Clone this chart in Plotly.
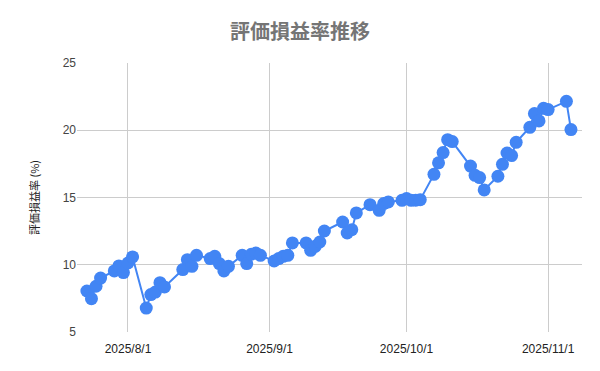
import plotly.graph_objects as go

dates = [
    "2025-07-23", "2025-07-24", "2025-07-25", "2025-07-26",
    "2025-07-29", "2025-07-30", "2025-07-31", "2025-08-01", "2025-08-02",
    "2025-08-05", "2025-08-06", "2025-08-07", "2025-08-08", "2025-08-09",
    "2025-08-13", "2025-08-14", "2025-08-15", "2025-08-16",
    "2025-08-19", "2025-08-20", "2025-08-21", "2025-08-22", "2025-08-23",
    "2025-08-26", "2025-08-27", "2025-08-28", "2025-08-29", "2025-08-30",
    "2025-09-02", "2025-09-03", "2025-09-04", "2025-09-05", "2025-09-06",
    "2025-09-09", "2025-09-10", "2025-09-11", "2025-09-12", "2025-09-13",
    "2025-09-17", "2025-09-18", "2025-09-19", "2025-09-20",
    "2025-09-23", "2025-09-25", "2025-09-26", "2025-09-27",
    "2025-09-30", "2025-10-01", "2025-10-02", "2025-10-03", "2025-10-04",
    "2025-10-07", "2025-10-08", "2025-10-09", "2025-10-10", "2025-10-11",
    "2025-10-15", "2025-10-16", "2025-10-17", "2025-10-18",
    "2025-10-21", "2025-10-22", "2025-10-23", "2025-10-24", "2025-10-25",
    "2025-10-28", "2025-10-29", "2025-10-30", "2025-10-31", "2025-11-01",
    "2025-11-05", "2025-11-06",
]

rates = [
    8.05, 7.48, 8.40, 9.01,
    9.54, 9.91, 9.42, 10.13, 10.58,
    6.78, 7.78, 7.97, 8.67, 8.35,
    9.64, 10.38, 9.88, 10.70,
    10.46, 10.63, 10.09, 9.54, 9.88,
    10.70, 10.09, 10.78, 10.87, 10.70,
    10.28, 10.46, 10.63, 10.70, 11.62,
    11.62, 11.07, 11.37, 11.69, 12.51,
    13.18, 12.36, 12.61, 13.85,
    14.47, 14.05, 14.55, 14.67,
    14.79, 14.92, 14.79, 14.80, 14.84,
    16.72, 17.58, 18.34, 19.30, 19.16,
    17.34, 16.65, 16.48, 15.56,
    16.58, 17.47, 18.31, 18.12, 19.10,
    20.22, 21.24, 20.69, 21.63, 21.54,
    22.15, 20.05,
]

x_tick_vals = ["2025-08-01", "2025-09-01", "2025-10-01", "2025-11-01"]
x_tick_text = ["2025/8/1", "2025/9/1", "2025/10/1", "2025/11/1"]
y_tick_vals = [5, 10, 15, 20, 25]

title_text = "評価損益率推移"
y_title = "評価損益率 (%)"

fig = go.Figure()
fig.add_trace(go.Scatter(
    x=dates, y=rates, mode="lines+markers",
    line=dict(color="#4285F4", width=2),
    marker=dict(color="#4285F4", size=13),
    showlegend=False,
))

fig.update_layout(
    width=600, height=371,
    margin=dict(l=77, r=18, t=63, b=39),
    paper_bgcolor="white", plot_bgcolor="white",
    title=dict(text=title_text, x=0.5, xanchor="center", y=0.915, yanchor="middle",
               font=dict(family="'Noto Sans CJK JP', sans-serif", size=20,
                         color="#757575", weight="bold")),
    font=dict(family="'Liberation Sans', Arial, 'Noto Sans CJK JP', sans-serif", size=12, color="#444444"),
)

fig.update_xaxes(
    type="date",
    range=["2025-07-20 20:00", "2025-11-08 10:00"],
    tickvals=x_tick_vals, ticktext=x_tick_text,
    showgrid=True, gridcolor="#cccccc", gridwidth=1,
    zeroline=False, showline=False, ticks="",
    ticklabelstandoff=8,
    tickfont=dict(size=12, color="#222222"),
)

fig.update_yaxes(
    range=[5, 25], tickvals=y_tick_vals,
    showgrid=True, gridcolor="#cccccc", gridwidth=1,
    zeroline=False, showline=False, ticks="",
    tickfont=dict(size=12, color="#444444"),
    title=dict(text=y_title, standoff=20,
               font=dict(family="'Noto Sans CJK JP', sans-serif", size=11, color="#222222")),
)

fig.write_html("out.html")
